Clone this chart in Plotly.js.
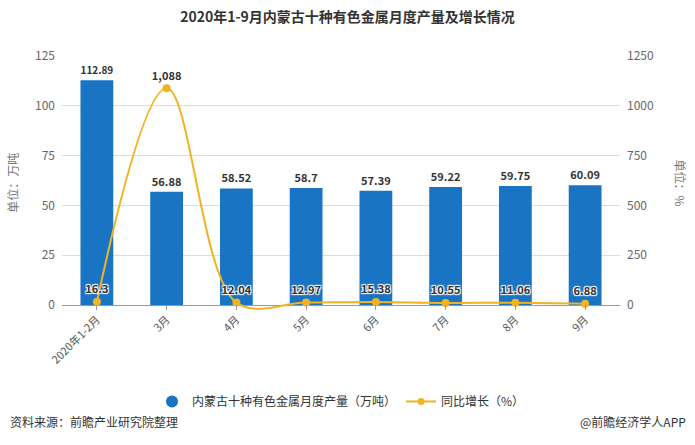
<!DOCTYPE html>
<html><head><meta charset="utf-8">
<script src="https://cdn.plot.ly/plotly-3.0.1.min.js"></script>
<style>html,body{margin:0;padding:0;background:#fff;}#c{width:695px;height:445px;}</style>
</head><body><div id="c"></div>
<script>
const categories = ["2020年1-2月","3月","4月","5月","6月","7月","8月","9月"];
const output = [112.89, 56.88, 58.52, 58.7, 57.39, 59.22, 59.75, 60.09];
const outputLabels = ["112.89","56.88","58.52","58.7","57.39","59.22","59.75","60.09"];
const growth = [16.3, 1088, 12.04, 12.97, 15.38, 10.55, 11.06, 6.88];
const growthLabels = ["16.3","1,088","12.04","12.97","15.38","10.55","11.06","6.88"];
const barName = "内蒙古十种有色金属月度产量（万吨）";
const lineName = "同比增长（%）";

const FONT = '"Noto Sans CJK SC", "Noto Sans", sans-serif';
const BAR_C = '#1a74c4', LINE_C = '#f0b323';
const shadow = '1px 1px 1px #fff, -1px -1px 1px #fff, 1px -1px 1px #fff, -1px 1px 1px #fff';

const traces = [
  {type:'bar', x:categories, y:output, name:barName, marker:{color:BAR_C}, width:0.47,
   text:outputLabels, textposition:'outside', cliponaxis:false,
   textfont:{family:FONT, size:11, color:'#333', weight:'bold'}, showlegend:false, hoverinfo:'skip'},
  {type:'scatter', mode:'lines+markers+text', x:categories, y:growth, yaxis:'y2', name:lineName,
   line:{color:LINE_C, width:2, shape:'spline', smoothing:1.0}, marker:{color:LINE_C, size:8},
   text:growthLabels, textposition:'top center', cliponaxis:false,
   textfont:{family:FONT, size:11, color:'#333', weight:'bold', shadow:shadow}, showlegend:false},
  {type:'scatter', mode:'markers', x:[null], y:[null], name:barName,
   marker:{color:BAR_C, size:12, symbol:'circle'}, showlegend:true},
  {type:'scatter', mode:'lines+markers', x:[null], y:[null], yaxis:'y2', name:lineName,
   line:{color:LINE_C, width:2}, marker:{color:LINE_C, size:7}, showlegend:true}
];

const layout = {
  width:695, height:445, paper_bgcolor:'#fff', plot_bgcolor:'#fff',
  margin:{l:62, r:75, t:56, b:135},
  font:{family:FONT, color:'#666', size:12},
  title:{text:'2020年1-9月内蒙古十种有色金属月度产量及增长情况', x:0.5, xanchor:'center', y:0.962, yanchor:'middle',
         font:{family:FONT, size:14, color:'#333', weight:'bold'}},
  xaxis:{type:'category', tickangle:-45, tickfont:{size:11, color:'#555'}, showline:false,
         ticks:'inside', ticklen:5, tickcolor:'#999', showgrid:false, zeroline:false},
  yaxis:{range:[-2.5,125], tick0:0, dtick:25, gridcolor:'#dcdcdc', zeroline:true, zerolinecolor:'#999', zerolinewidth:1,
         tickfont:{size:12, color:'#666'}, showline:false, ticks:'', ticklabelstandoff:6},
  yaxis2:{range:[-25,1250], tick0:0, dtick:250, overlaying:'y', side:'right', showgrid:false, zeroline:false,
          tickfont:{size:12, color:'#666'}, ticklabelstandoff:6},
  bargap:0.5,
  showlegend:true,
  legend:{orientation:'h', x:0.5, xanchor:'center', y:-0.36, yanchor:'middle',
          font:{family:FONT, size:12, color:'#333'}, itemwidth:30, traceorder:'normal'},
  annotations:[
    {text:'单位：万吨', xref:'paper', yref:'paper', x:-0.09, y:0.5, textangle:-90, showarrow:false,
     xanchor:'center', yanchor:'middle', font:{size:12, color:'#777'}},
    {text:'单位：%', xref:'paper', yref:'paper', x:1.11, y:0.5, textangle:90, showarrow:false,
     xanchor:'center', yanchor:'middle', font:{size:12, color:'#777'}},
    {text:'资料来源：前瞻产业研究院整理', xref:'paper', yref:'paper', x:-0.097, y:-0.44, showarrow:false,
     xanchor:'left', yanchor:'middle', font:{size:12, color:'#333'}},
    {text:'@前瞻经济学人APP', xref:'paper', yref:'paper', x:1.122, y:-0.44, showarrow:false,
     xanchor:'right', yanchor:'middle', font:{size:12, color:'#333'}}
  ]
};
Plotly.newPlot('c', traces, layout, {displayModeBar:false, staticPlot:true});
</script></body></html>
